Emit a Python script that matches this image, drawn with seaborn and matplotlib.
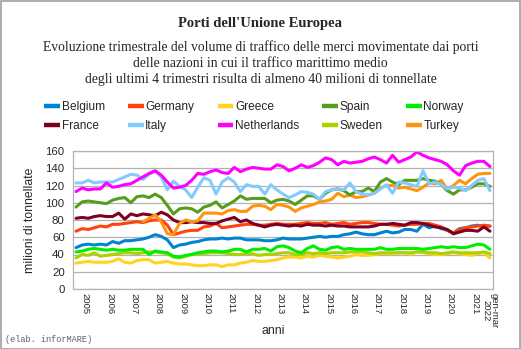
import numpy as np
import pandas as pd
import matplotlib
matplotlib.use("Agg")
import matplotlib.pyplot as plt
from matplotlib.lines import Line2D
from matplotlib.patches import Rectangle
import seaborn as sns

# ---------------- data ----------------
years = [str(y) for y in range(2005, 2022)]
last_label = "gen-mar\n2022"
n_q = 69

belgium = [48, 51, 52, 51, 52, 51, 55, 53, 56, 56, 57, 58,
           60, 63, 61, 57, 48, 51, 52, 54, 55, 57, 58, 58,
           59, 58, 59, 59, 57, 57, 57, 56, 56, 57, 59, 58,
           58, 58, 59, 60, 61, 60, 61, 61, 63, 64, 66, 64,
           63, 63, 65, 67, 65, 66, 69, 69, 67, 75, 71, 73,
           70, 68, 65, 70, 71, 73, 74, 72, 73]
germany = [67, 70, 69, 71, 73, 72, 75, 75, 76, 77, 78, 77,
           79, 80, 80, 74, 63, 65, 67, 68, 68, 72, 73, 76,
           71, 72, 73, 74, 75, 75, 74, 74, 75, 76, 75, 75,
           75, 76, 77, 76, 76, 77, 75, 76, 77, 75, 76, 77,
           77, 76, 75, 75, 74, 73, 74, 75, 75, 76, 76, 74,
           72, 68, 65, 69, 71, 72, 73, 74, 73]
greece = [30, 31, 32, 31, 31, 31, 32, 35, 31, 30, 33, 34,
          34, 30, 31, 32, 30, 29, 29, 28, 27, 27, 28, 28,
          26, 28, 28, 30, 31, 33, 32, 32, 33, 34, 36, 37,
          37, 36, 38, 37, 39, 38, 37, 36, 37, 38, 40, 39,
          39, 40, 41, 41, 41, 42, 42, 40, 43, 42, 41, 40,
          40, 41, 42, 41, 40, 39, 41, 42, 36]
spain = [95, 101, 102, 101, 100, 99, 103, 105, 106, 100, 107, 108,
         106, 110, 106, 97, 87, 93, 94, 93, 89, 95, 97, 101,
         94, 98, 102, 108, 104, 105, 105, 105, 100, 103, 104, 102,
         98, 103, 108, 108, 104, 111, 115, 116, 114, 109, 113, 113,
         117, 113, 124, 128, 124, 121, 126, 126, 126, 128, 126, 125,
         121, 114, 110, 115, 115, 118, 122, 122, 119]
norway = [43, 44, 46, 47, 46, 45, 46, 45, 45, 46, 46, 46,
          40, 44, 43, 42, 38, 37, 39, 40, 42, 43, 44, 44,
          43, 44, 46, 46, 43, 46, 46, 47, 44, 49, 50, 48,
          44, 42, 47, 50, 46, 45, 48, 49, 46, 47, 46, 46,
          46, 46, 48, 46, 46, 47, 47, 47, 47, 46, 47, 48,
          49, 48, 49, 48, 48, 50, 52, 51, 46]
france = [82, 83, 82, 84, 85, 84, 84, 88, 81, 87, 85, 87,
          86, 85, 89, 86, 80, 77, 77, 78, 77, 77, 76, 76,
          79, 81, 83, 78, 80, 76, 74, 72, 74, 75, 74, 73,
          74, 73, 75, 74, 74, 73, 74, 73, 73, 72, 72, 72,
          72, 73, 75, 75, 76, 75, 74, 77, 77, 76, 74, 72,
          71, 69, 64, 66, 68, 68, 67, 72, 67]
italy = [123, 123, 126, 123, 124, 124, 124, 127, 130, 133, 132, 127,
         133, 137, 130, 115, 125, 119, 115, 106, 118, 129, 126, 110,
         124, 129, 124, 113, 121, 119, 119, 110, 121, 115, 110, 106,
         109, 113, 112, 110, 104, 113, 115, 116, 115, 123, 113, 110,
         109, 111, 116, 121, 111, 124, 123, 121, 119, 137, 122, 124,
         121, 116, 118, 117, 114, 120, 126, 128, 114]
netherlands = [113, 117, 115, 116, 116, 123, 118, 119, 121, 122, 126, 130,
               134, 137, 132, 124, 117, 118, 120, 126, 134, 133, 136, 138,
               135, 134, 141, 136, 139, 141, 140, 139, 139, 144, 142, 137,
               140, 144, 141, 143, 147, 152, 150, 144, 148, 146, 147, 148,
               151, 153, 150, 146, 155, 147, 150, 153, 159, 155, 152, 150,
               148, 144, 137, 132, 143, 146, 148, 148, 142]
sweden = [36, 40, 39, 42, 38, 39, 40, 41, 42, 42, 41, 42,
          43, 43, 42, 41, 37, 36, 38, 40, 41, 41, 42, 42,
          42, 41, 40, 40, 41, 41, 39, 40, 40, 41, 42, 42,
          40, 40, 42, 41, 42, 41, 42, 42, 42, 43, 43, 43,
          42, 41, 42, 42, 42, 42, 42, 42, 43, 43, 42, 42,
          41, 42, 43, 42, 42, 42, 42, 43, 41]
turkey = [np.nan] * 11 + [78,
          82, 86, 78, 64, 63, 76, 80, 78, 79, 88, 88, 88,
          87, 91, 92, 90, 90, 96, 97, 96, 92, 98, 97, 95,
          90, 94, 96, 98, 101, 102, 104, 111, 107, 109, 106, 107,
          109, 111, 117, 120, 120, 117, 118, 116, 114, 118, 123, 122,
          126, 115, 120, 126, 122, 128, 133, 134, 134]

series = {
    "Belgium": belgium, "Germany": germany, "Greece": greece,
    "Spain": spain, "Norway": norway, "France": france,
    "Italy": italy, "Netherlands": netherlands, "Sweden": sweden,
    "Turkey": turkey,
}
colors = {
    "Belgium": "#0084d1", "Germany": "#ff420e", "Greece": "#ffd320",
    "Spain": "#579d1c", "Norway": "#00ee00", "France": "#7e0021",
    "Italy": "#83caff", "Netherlands": "#ff00ff", "Sweden": "#aecf00",
    "Turkey": "#ff950e",
}
draw_order = ["Greece", "Sweden", "Norway", "Belgium", "Germany", "France",
              "Turkey", "Spain", "Italy", "Netherlands"]

rows = []
for name, vals in series.items():
    for i, v in enumerate(vals):
        rows.append({"q": i, "value": v, "country": name})
df = pd.DataFrame(rows)

# ---------------- figure ----------------
sns.set_style("white")
plt.rcParams["font.family"] = ["Liberation Sans", "DejaVu Sans"]

W, H = 521, 349
fig = plt.figure(figsize=(W / 100, H / 100), dpi=100)
ax = fig.add_axes([73 / W, 1 - 289 / H, 420 / W, 138 / H])

for name in draw_order:
    sub = df[df["country"] == name]
    sns.lineplot(data=sub, x="q", y="value", ax=ax, color=colors[name],
                 linewidth=2.2, estimator=None, legend=False)

ax.set_xlim(-0.5, n_q - 0.5)
ax.set_ylim(0, 160)
ax.set_yticks(np.arange(0, 161, 20))
ax.yaxis.grid(True, color="#b3b3b3", linewidth=0.9)
ax.set_axisbelow(True)
for s in ax.spines.values():
    s.set_color("#b3b3b3")
    s.set_linewidth(0.9)

# x ticks: year boundaries as major ticks, labels as minor ticks
bounds = list(np.arange(-0.5, n_q - 1, 4)) + [n_q - 0.5]
ax.set_xticks(bounds)
ax.set_xticklabels([])
centers = [1.5 + 4 * k for k in range(len(years))] + [n_q - 1]
ax.set_xticks(centers, minor=True)
ax.set_xticklabels(years + [last_label], minor=True, rotation=-90,
                   fontsize=6.8, va="top", ha="center", linespacing=0.85)
ax.tick_params(axis="x", which="major", length=4, color="#b3b3b3", direction="out")
ax.tick_params(axis="x", which="minor", length=0, pad=3)
ax.tick_params(axis="y", length=4, color="#b3b3b3", direction="out",
               labelsize=8.2, pad=2)

ax.set_xlabel("anni", fontsize=8.8, labelpad=2)
ax.xaxis.set_label_coords(0.476, -0.26)
ax.set_ylabel("milioni di tonnellate", fontsize=8.8, labelpad=7)

# titles
fig.text(0.5, 1 - 24 / H, "Porti dell'Unione Europea", ha="center", va="center",
         fontsize=10.5, fontweight="bold", family="Liberation Serif")
subs = ["Evoluzione trimestrale del volume di traffico delle merci movimentate dai porti",
        "delle nazioni in cui il traffico marittimo medio",
        "degli ultimi 4 trimestri risulta di almeno 40 milioni di tonnellate"]
for k, t in enumerate(subs):
    fig.text(0.5, 1 - (47 + 16.5 * k) / H, t, ha="center", va="center",
             fontsize=9.8, family="Liberation Serif")

# legend (column-major order for 2 rows x 5 columns)
leg_order = ["Belgium", "France", "Germany", "Italy", "Greece", "Netherlands",
             "Spain", "Sweden", "Norway", "Turkey"]
handles = [Line2D([0], [0], color=colors[n], linewidth=3.2, solid_capstyle="butt")
           for n in leg_order]
fig.legend(handles, leg_order, loc="center", ncol=5,
           bbox_to_anchor=(254 / W, 1 - 116.5 / H), frameon=False,
           fontsize=8.6, handlelength=1.3, handletextpad=0.15,
           columnspacing=1.95, labelspacing=0.62, borderpad=0)

fig.text(5 / W, 1 - 340 / H, "(elab. inforMARE)", ha="left", va="center",
         fontsize=6.2, color="#606060", family="Liberation Mono")

fig.patches.append(Rectangle((0.5 / W, 0.5 / H), 1 - 1.5 / W, 1 - 1.5 / H,
                             transform=fig.transFigure, fill=False,
                             edgecolor="#a0a0a0", linewidth=1.2))

fig.savefig("out.png", dpi=100)
